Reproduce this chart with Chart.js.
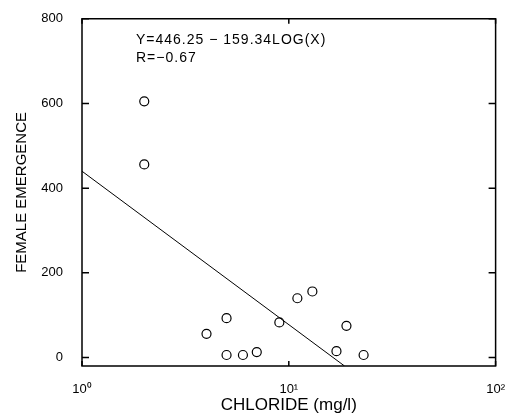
<!DOCTYPE html>
<html>
<head>
<meta charset="utf-8">
<script src="https://cdn.jsdelivr.net/npm/chart.js@4.4.1/dist/chart.umd.min.js"></script>
<style>
  html, body { margin: 0; padding: 0; background: #fff; }
  #wrap { width: 513px; height: 417px; }
</style>
</head>
<body>
<div id="wrap"><canvas id="chart" width="513" height="417"></canvas></div>
<script>
// Observed points (chloride mg/l, female emergence)
const chloride = [2, 2, 4, 5, 5, 6, 7, 9, 11, 13, 17, 19, 23];
const emergence = [605, 456, 56, 93, 6, 6, 13, 83, 140, 156, 15, 75, 6];

// Regression line end points as drawn
const lineX = [1, 18.6];
const lineY = [440, -20];

const xTicks = [1, 10, 100];
const xTickLabels = ['10\u2070', '10\u00B9', '10\u00B2'];
const yTicks = [0, 200, 400, 600, 800];

const equationText = ['Y=446.25 \u2212 159.34LOG(X)', 'R=\u22120.67'];

const FONT = "'Liberation Sans', Arial, sans-serif";

// Inward tick marks on all four sides + equation text
const framePlugin = {
  id: 'frame',
  afterDraw(chart) {
    const ctx = chart.ctx;
    const a = chart.chartArea;
    const xs = chart.scales.x, ys = chart.scales.y;
    ctx.save();
    ctx.strokeStyle = '#000';
    ctx.lineWidth = 1.5;
    ctx.beginPath();
    ctx.rect(a.left, a.top, a.right - a.left, a.bottom - a.top);
    ctx.stroke();

    yTicks.forEach(v => {
      const py = ys.getPixelForValue(v);
      ctx.beginPath();
      ctx.moveTo(a.left, py); ctx.lineTo(a.left + 7, py);
      ctx.moveTo(a.right, py); ctx.lineTo(a.right - 7, py);
      ctx.stroke();
    });
    xTicks.forEach(v => {
      const px = xs.getPixelForValue(v);
      ctx.beginPath();
      ctx.moveTo(px, a.bottom); ctx.lineTo(px, a.bottom - 5);
      ctx.moveTo(px, a.top); ctx.lineTo(px, a.top + 5);
      ctx.stroke();
    });

    ctx.fillStyle = '#000';
    ctx.font = '14px ' + FONT;
    ctx.letterSpacing = '1px';
    ctx.textAlign = 'left';
    ctx.textBaseline = 'middle';
    ctx.fillText(equationText[0], a.left + 54, a.top + 21);
    ctx.fillText(equationText[1], a.left + 54, a.top + 39);
    ctx.restore();
  }
};

const ctx = document.getElementById('chart').getContext('2d');
new Chart(ctx, {
  type: 'scatter',
  data: {
    datasets: [
      {
        label: 'observed',
        data: chloride.map((c, i) => ({ x: c, y: emergence[i] })),
        pointStyle: 'circle',
        pointRadius: 4.5,
        pointBorderWidth: 1.2,
        pointBorderColor: '#000',
        pointBackgroundColor: 'rgba(255,255,255,0)',
        showLine: false
      },
      {
        label: 'fit',
        data: lineX.map((c, i) => ({ x: c, y: lineY[i] })),
        showLine: true,
        borderColor: '#000',
        borderWidth: 1,
        pointRadius: 0
      }
    ]
  },
  options: {
    responsive: false,
    animation: false,
    layout: { padding: { top: 17, right: 8, left: 0, bottom: 0 } },
    plugins: { legend: { display: false }, tooltip: { enabled: false } },
    scales: {
      x: {
        type: 'logarithmic',
        min: 1,
        max: 100,
        afterBuildTicks: s => { s.ticks = xTicks.map(v => ({ value: v })); },
        afterFit: s => { s.height = 51; },
        grid: { display: false },
        border: { display: false },
        ticks: {
          color: '#000',
          font: { size: 13, family: FONT },
          padding: 8,
          maxRotation: 0,
          autoSkip: false,
          callback: (v) => xTickLabels[xTicks.indexOf(v)]
        },
        title: {
          display: true,
          text: 'CHLORIDE (mg/l)',
          color: '#000',
          font: { size: 17, family: FONT },
          padding: { top: 0, bottom: 1 }
        }
      },
      y: {
        min: -20,
        max: 800,
        afterBuildTicks: s => { s.ticks = yTicks.map(v => ({ value: v })); },
        afterFit: s => { s.width = 82; },
        grid: { display: false },
        border: { display: false },
        ticks: {
          color: '#000',
          font: { size: 13, family: FONT },
          padding: 11
        },
        title: {
          display: true,
          text: 'FEMALE EMERGENCE',
          color: '#000',
          font: { size: 15, family: FONT },
          padding: { top: 13, bottom: 0 }
        }
      }
    }
  },
  plugins: [framePlugin]
});
</script>
</body>
</html>
